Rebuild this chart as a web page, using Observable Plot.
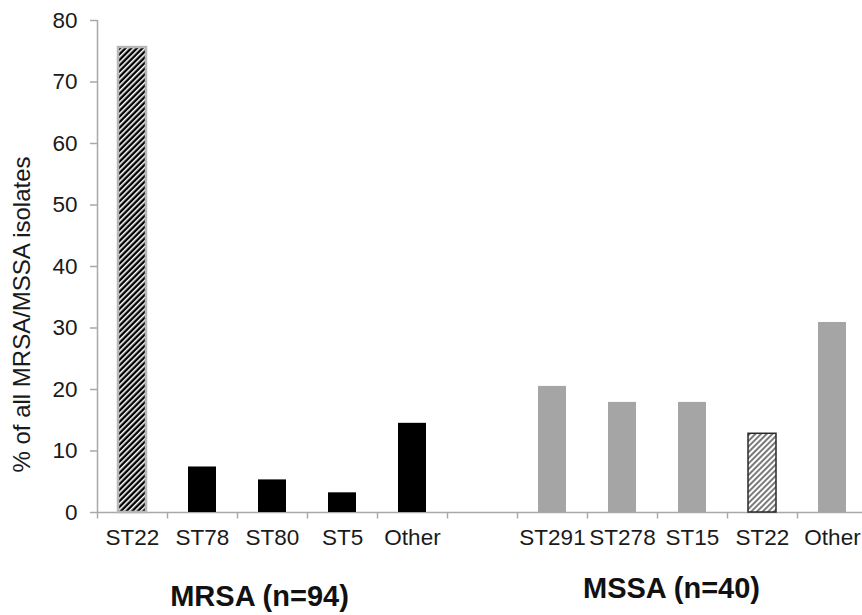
<!DOCTYPE html>
<html><head><meta charset="utf-8">
<script src="https://cdn.jsdelivr.net/npm/d3@7"></script>
<script src="https://cdn.jsdelivr.net/npm/@observablehq/plot@0.6"></script>
<style>body{margin:0;background:#fff} svg text{font-family:"Liberation Sans", Arial, sans-serif}</style>
</head><body><div id="chart"></div>
<script>
const mrsaCategories = ["ST22", "ST78", "ST80", "ST5", "Other"];
const mrsaValues = [75.6, 7.4, 5.3, 3.2, 14.5];
const mssaCategories = ["ST291", "ST278", "ST15", "ST22", "Other"];
const mssaValues = [20.5, 17.9, 17.9, 12.8, 30.9];
const groupLabels = ["MRSA (n=94)", "MSSA (n=40)"];
const hatchedCategory = "ST22";
const yTicks = [0, 10, 20, 30, 40, 50, 60, 70, 80];
const yLabel = "% of all MRSA/MSSA isolates";

const rows = [
  ...mrsaCategories.map((c, i) => ({key: "MRSA|" + c, label: c, group: "MRSA", value: mrsaValues[i]})),
  ...mssaCategories.map((c, i) => ({key: "MSSA|" + c, label: c, group: "MSSA", value: mssaValues[i]}))
];
const mrsaKeys = rows.filter(r => r.group === "MRSA").map(r => r.key);
const mssaKeys = rows.filter(r => r.group === "MSSA").map(r => r.key);
const domain = [...mrsaKeys, "gap", ...mssaKeys];
const labelOf = new Map(rows.map(r => [r.key, r.label]));
const axisGray = "#a8a8a8";

const chart = Plot.plot({
  width: 862, height: 615,
  marginLeft: 97, marginTop: 20, marginBottom: 103, marginRight: 0,
  style: {fontFamily: "Liberation Sans, Arial, sans-serif", background: "#fff", overflow: "visible"},
  x: {type: "band", domain, range: [97, 867.4], paddingInner: 0.6, paddingOuter: 0.3},
  y: {domain: [0, 80]},
  marks: [
    Plot.ruleY([0], {stroke: axisGray, strokeWidth: 1.5}),
    Plot.ruleX([domain[0]], {x: d => d, y1: 0, y2: 80, dx: -35, stroke: axisGray, strokeWidth: 1.5}),
    Plot.ruleX(domain, {x: d => d, y1: 0, y2: -1.05, dx: -35, stroke: axisGray, strokeWidth: 1.5}),
    Plot.barY(rows.filter(r => r.group === "MRSA" && r.label !== hatchedCategory), {x: "key", y: "value", fill: "#000"}),
    Plot.barY(rows.filter(r => r.group === "MRSA" && r.label === hatchedCategory), {x: "key", y: "value", fill: "url(#hatchDark)", stroke: "#b8b8b8", strokeWidth: 2.5}),
    Plot.barY(rows.filter(r => r.group === "MSSA" && r.label !== hatchedCategory), {x: "key", y: "value", fill: "#a5a5a5"}),
    Plot.barY(rows.filter(r => r.group === "MSSA" && r.label === hatchedCategory), {x: "key", y: "value", fill: "url(#hatchGray)", stroke: "#2a2a2a", strokeWidth: 1.5}),
    Plot.axisY({ticks: yTicks, tickSize: 7, tickPadding: 13, fontSize: 22.5, stroke: axisGray, strokeWidth: 1.5, fill: "#1a1a1a", label: null}),
    Plot.axisX({tickSize: 0, tickPadding: 17, fontSize: 22.5, fill: "#1a1a1a", tickFormat: k => labelOf.get(k) ?? "", label: null}),
    Plot.text([yLabel], {frameAnchor: "left", textAnchor: "middle", rotate: -90, dx: -75, dy: 48, fontSize: 24, fill: "#1a1a1a"}),
    Plot.text([groupLabels[0]], {x: () => mrsaKeys[2], frameAnchor: "bottom", dx: -13, dy: 93, fontSize: 29, fontWeight: "bold", fill: "#111"}),
    Plot.text([groupLabels[1]], {x: () => mssaKeys[2], frameAnchor: "bottom", dx: -21, dy: 85, fontSize: 29, fontWeight: "bold", fill: "#111"})
  ]
});

const svgEl = chart.tagName.toLowerCase() === "svg" ? chart : chart.querySelector("svg");
const defs = d3.select(svgEl).insert("defs", ":first-child");
const p1 = defs.append("pattern").attr("id", "hatchDark").attr("patternUnits", "userSpaceOnUse")
  .attr("width", 4).attr("height", 4).attr("patternTransform", "rotate(45)");
p1.append("rect").attr("width", 4).attr("height", 4).attr("fill", "#000");
p1.append("rect").attr("width", 1.6).attr("height", 4).attr("fill", "#fff");
const p2 = defs.append("pattern").attr("id", "hatchGray").attr("patternUnits", "userSpaceOnUse")
  .attr("width", 4).attr("height", 4).attr("patternTransform", "rotate(45)");
p2.append("rect").attr("width", 4).attr("height", 4).attr("fill", "#fff");
p2.append("rect").attr("width", 2).attr("height", 4).attr("fill", "#7a7a7a");

document.getElementById("chart").appendChild(chart);
</script>
</body></html>
